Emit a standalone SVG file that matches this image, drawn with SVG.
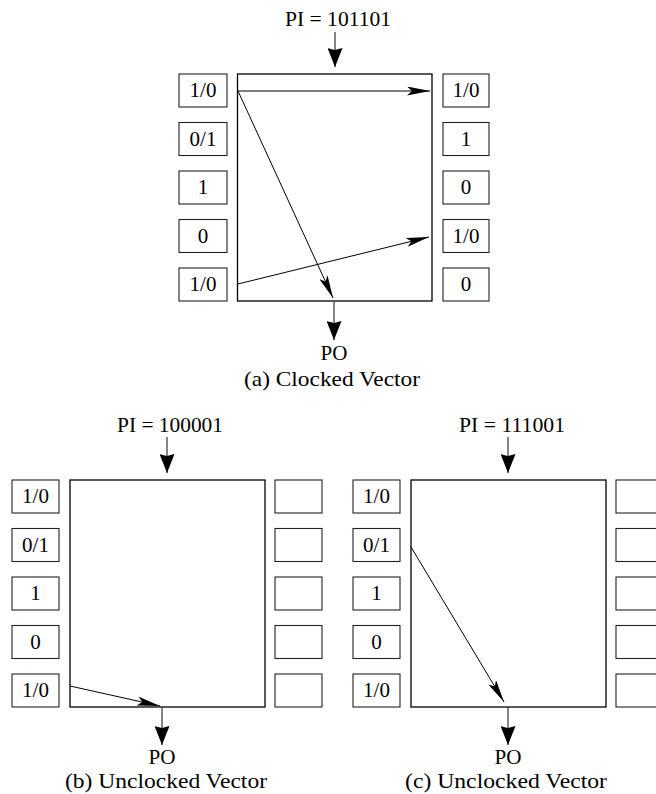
<svg xmlns="http://www.w3.org/2000/svg" width="656" height="794" viewBox="0 0 656 794">
  <style>
    .core { fill: none; stroke: #000; stroke-width: 1.3; }
    .cell { fill: #fff; stroke: #222; stroke-width: 1.1; }
    .lbl { font-family: "Liberation Serif", "Times New Roman", serif; font-size: 21px; fill: #000; text-anchor: middle; }
    .sm { font-size: 20px; }
    .io { stroke: #333; stroke-width: 1.2; fill: none; }
    .path { stroke: #000; stroke-width: 1; fill: none; marker-end: url(#thin); }
  </style>
  <defs>
    <marker id="thin" markerUnits="userSpaceOnUse" viewBox="0 0 23 9" refX="23" refY="4.5" markerWidth="23" markerHeight="9" orient="auto">
      <path d="M0,0 L23,4.5 L0,9 L5,4.5 Z" fill="#000"/>
    </marker>
    <marker id="big" markerUnits="userSpaceOnUse" viewBox="0 0 19 15" refX="19" refY="7.5" markerWidth="19" markerHeight="15" orient="auto">
      <path d="M0,0 L19,7.5 L0,15 L2,7.5 Z" fill="#000"/>
    </marker>
  </defs>

  <!-- (a) clocked vector -->
  <g id="a-pi">
    <text class="lbl" x="338" y="26" textLength="106" lengthAdjust="spacingAndGlyphs">PI = 101101</text>
  </g>
  <g id="a-core">
    <rect class="core" x="237.5" y="74" width="194.5" height="227"/>
  </g>
  <g id="a-left">
    <rect class="cell" x="179" y="74" width="48" height="33"/><text class="lbl" x="203" y="97">1/0</text>
    <rect class="cell" x="179" y="122.5" width="48" height="33"/><text class="lbl" x="203" y="145.5">0/1</text>
    <rect class="cell" x="179" y="171" width="48" height="33"/><text class="lbl" x="203" y="194">1</text>
    <rect class="cell" x="179" y="219.5" width="48" height="33"/><text class="lbl" x="203" y="242.5">0</text>
    <rect class="cell" x="179" y="268" width="48" height="33"/><text class="lbl" x="203" y="291">1/0</text>
  </g>
  <g id="a-right">
    <rect class="cell" x="443" y="74" width="46" height="33"/><text class="lbl" x="466" y="97">1/0</text>
    <rect class="cell" x="443" y="122.5" width="46" height="33"/><text class="lbl" x="466" y="145.5">1</text>
    <rect class="cell" x="443" y="171" width="46" height="33"/><text class="lbl" x="466" y="194">0</text>
    <rect class="cell" x="443" y="219.5" width="46" height="33"/><text class="lbl" x="466" y="242.5">1/0</text>
    <rect class="cell" x="443" y="268" width="46" height="33"/><text class="lbl" x="466" y="291">0</text>
  </g>
  <g id="a-po">
    <text class="lbl" x="334" y="360">PO</text>
    <text class="lbl" x="332" y="386" textLength="176" lengthAdjust="spacingAndGlyphs">(a) Clocked Vector</text>
  </g>

  <!-- (b) unclocked vector, PI = 100001 -->
  <g id="b-pi">
    <text class="lbl" x="170" y="432" textLength="106" lengthAdjust="spacingAndGlyphs">PI = 100001</text>
  </g>
  <g id="b-core">
    <rect class="core" x="70" y="480" width="195" height="227"/>
  </g>
  <g id="b-left">
    <rect class="cell" x="12" y="480" width="47" height="33"/><text class="lbl" x="35.5" y="503">1/0</text>
    <rect class="cell" x="12" y="528.5" width="47" height="33"/><text class="lbl" x="35.5" y="551.5">0/1</text>
    <rect class="cell" x="12" y="577" width="47" height="33"/><text class="lbl" x="35.5" y="600">1</text>
    <rect class="cell" x="12" y="625.5" width="47" height="33"/><text class="lbl" x="35.5" y="648.5">0</text>
    <rect class="cell" x="12" y="674" width="47" height="33"/><text class="lbl" x="35.5" y="697">1/0</text>
  </g>
  <g id="b-right">
    <rect class="cell" x="275" y="480" width="47" height="33"/>
    <rect class="cell" x="275" y="528.5" width="47" height="33"/>
    <rect class="cell" x="275" y="577" width="47" height="33"/>
    <rect class="cell" x="275" y="625.5" width="47" height="33"/>
    <rect class="cell" x="275" y="674" width="47" height="33"/>
  </g>
  <g id="b-po">
    <text class="lbl sm" x="162" y="764" textLength="27" lengthAdjust="spacingAndGlyphs">PO</text>
    <text class="lbl sm" x="166" y="788" textLength="202" lengthAdjust="spacingAndGlyphs">(b) Unclocked Vector</text>
  </g>

  <!-- (c) unclocked vector, PI = 111001 -->
  <g id="c-pi">
    <text class="lbl" x="512" y="432" textLength="106" lengthAdjust="spacingAndGlyphs">PI = 111001</text>
  </g>
  <g id="c-core">
    <rect class="core" x="411" y="480" width="195" height="227"/>
  </g>
  <g id="c-left">
    <rect class="cell" x="353" y="480" width="47" height="33"/><text class="lbl" x="376.5" y="503">1/0</text>
    <rect class="cell" x="353" y="528.5" width="47" height="33"/><text class="lbl" x="376.5" y="551.5">0/1</text>
    <rect class="cell" x="353" y="577" width="47" height="33"/><text class="lbl" x="376.5" y="600">1</text>
    <rect class="cell" x="353" y="625.5" width="47" height="33"/><text class="lbl" x="376.5" y="648.5">0</text>
    <rect class="cell" x="353" y="674" width="47" height="33"/><text class="lbl" x="376.5" y="697">1/0</text>
  </g>
  <g id="c-right">
    <rect class="cell" x="616" y="480" width="47" height="33"/>
    <rect class="cell" x="616" y="528.5" width="47" height="33"/>
    <rect class="cell" x="616" y="577" width="47" height="33"/>
    <rect class="cell" x="616" y="625.5" width="47" height="33"/>
    <rect class="cell" x="616" y="674" width="47" height="33"/>
  </g>
  <g id="c-po">
    <text class="lbl sm" x="508" y="764" textLength="27" lengthAdjust="spacingAndGlyphs">PO</text>
    <text class="lbl sm" x="506" y="788" textLength="202" lengthAdjust="spacingAndGlyphs">(c) Unclocked Vector</text>
  </g>

  <!-- connectors -->
  <g id="connectors">
    <line class="io" x1="335" y1="32" x2="335" y2="67" marker-end="url(#big)"/>
    <line class="io" x1="334" y1="302" x2="334" y2="340" marker-end="url(#big)"/>
    <line class="path" x1="238" y1="91" x2="430" y2="91"/>
    <line class="path" x1="238" y1="91" x2="333" y2="298"/>
    <line class="path" x1="238" y1="284" x2="429" y2="237"/>

    <line class="io" x1="167" y1="437" x2="167" y2="473" marker-end="url(#big)"/>
    <line class="io" x1="162" y1="707" x2="162" y2="745" marker-end="url(#big)"/>
    <line class="path" x1="70" y1="686" x2="160" y2="706"/>

    <line class="io" x1="508" y1="437" x2="508" y2="473" marker-end="url(#big)"/>
    <line class="io" x1="508" y1="707" x2="508" y2="745" marker-end="url(#big)"/>
    <line class="path" x1="411" y1="547" x2="504" y2="702"/>
  </g>
</svg>
